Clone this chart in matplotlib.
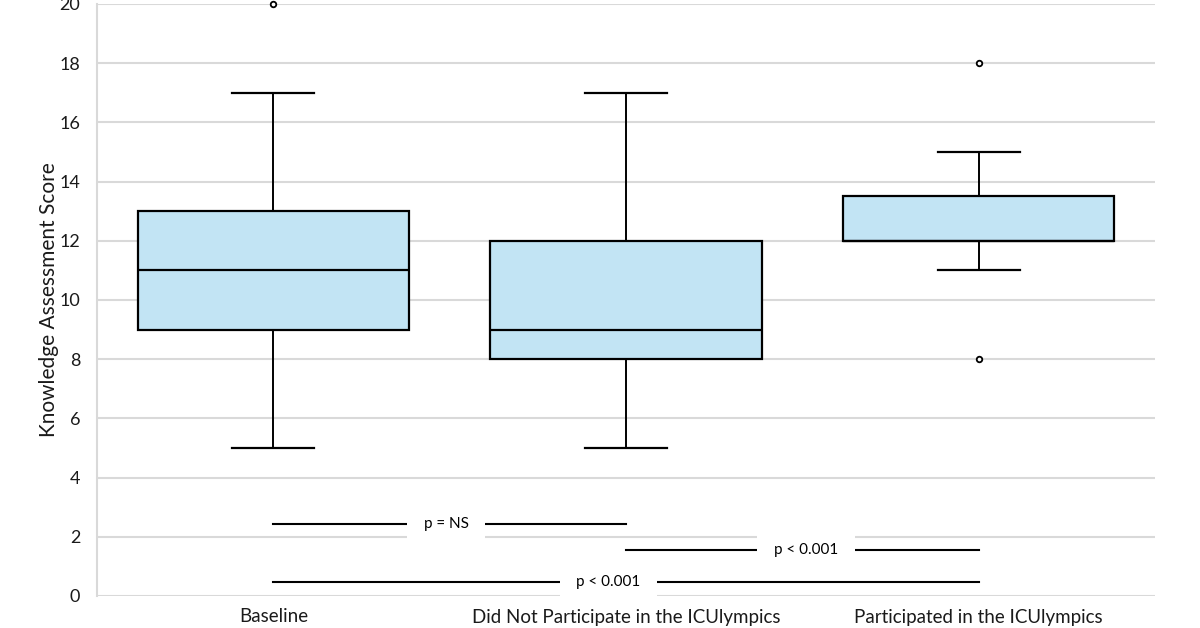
import matplotlib
matplotlib.use("Agg")
import matplotlib.pyplot as plt

categories = ["Baseline", "Did Not Participate in the ICUlympics", "Participated in the ICUlympics"]
whisker_low = [5, 5, 11]
q1 = [9, 8, 12]
medians = [11, 9, 12]
q3 = [13, 12, 13.5]
whisker_high = [17, 17, 15]
outliers = [[20], [], [18, 8]]

# significance brackets: (start group, end group, height, label, label x)
sig_start = [0, 1, 0]
sig_end = [1, 2, 2]
sig_y = [2.42, 1.55, 0.47]
sig_text = ["p = NS", "p < 0.001", "p < 0.001"]
sig_text_x = [0.49, 1.51, 0.95]

plt.rcParams["font.family"] = ["Lato", "DejaVu Sans"]

fig = plt.figure(figsize=(12, 6.28), dpi=100)
ax = fig.add_axes([97 / 1200, 32 / 628, 1058 / 1200, 592 / 628])

stats = []
for i, name in enumerate(categories):
    stats.append({
        "label": name,
        "whislo": whisker_low[i],
        "q1": q1[i],
        "med": medians[i],
        "q3": q3[i],
        "whishi": whisker_high[i],
        "fliers": outliers[i],
    })

ax.bxp(
    stats,
    positions=range(len(categories)),
    widths=0.77,
    patch_artist=True,
    boxprops=dict(facecolor="#C2E4F4", edgecolor="black", linewidth=1.6),
    medianprops=dict(color="black", linewidth=1.6),
    whiskerprops=dict(color="black", linewidth=1.4),
    capprops=dict(color="black", linewidth=1.6),
    capwidths=0.233,
    flierprops=dict(marker="o", markersize=4, markerfacecolor="white",
                    markeredgecolor="black", markeredgewidth=1.3),
)
for line in ax.lines:
    line.set_clip_on(False)

for x0, x1, y, txt, tx in zip(sig_start, sig_end, sig_y, sig_text, sig_text_x):
    ax.plot([x0, x1], [y, y], color="black", linewidth=1.5, zorder=3)
    ax.text(tx, y, txt, ha="center", va="center", fontsize=11, zorder=4,
            bbox=dict(facecolor="white", edgecolor="none", pad=12))

ax.set_xlim(-0.5, 2.5)
ax.set_ylim(0, 20)
ax.set_yticks(range(0, 21, 2))
ax.set_xticks(range(len(categories)))
ax.set_xticklabels(categories)
ax.tick_params(axis="both", length=0, colors="#1a1a1a")
ax.tick_params(axis="x", pad=9, labelsize=13.5)
ax.tick_params(axis="y", pad=12, labelsize=13)
ax.yaxis.grid(True, color="#d9d9d9", linewidth=1.5, zorder=0)
ax.set_axisbelow(True)
for s in ["top", "right", "bottom"]:
    ax.spines[s].set_visible(False)
ax.spines["left"].set_color("#d9d9d9")
ax.spines["left"].set_linewidth(1.5)
ax.set_ylabel("Knowledge Assessment Score", fontsize=15, color="#1a1a1a")
ax.yaxis.set_label_coords(-0.036, 0.5)

fig.savefig("out.png", dpi=100)
